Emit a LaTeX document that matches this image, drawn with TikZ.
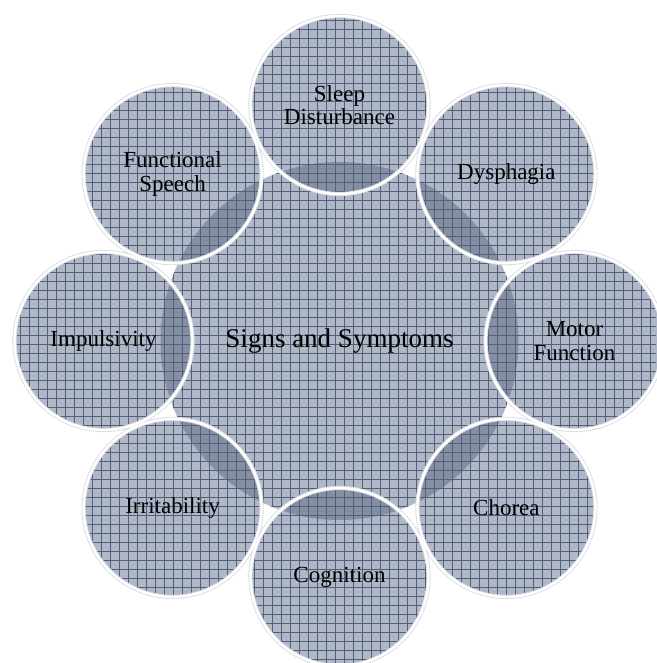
\documentclass[tikz,border=0pt]{standalone}
\usepackage{fontspec}
\setmainfont{Liberation Serif}
\begin{document}
\begin{tikzpicture}[x=1pt,y=-1pt]
\definecolor{basefill}{HTML}{B0B8C7}
\definecolor{gridline}{HTML}{53607A}
\definecolor{overlapfill}{HTML}{858FA3}
\definecolor{rimshade}{HTML}{D9DCE1}
\tikzset{
  outerlabel/.style={align=center, text=black, font=\fontsize{23}{23.5}\selectfont},
  centerlabel/.style={align=center, text=black, font=\fontsize{27}{30}\selectfont},
  rim/.style={draw=white, line width=2.4pt},
  rimhalo/.style={draw=rimshade, line width=4.2pt},
  gridstroke/.style={draw=gridline, line width=0.5pt}
}
\useasboundingbox (0,0) rectangle (656,663);
\def\bigR{179}
\def\smallR{89}
\coordinate (hub) at (339.5,341);
% centres of the eight satellite circles
\coordinate (sleep)  at (339.5,105);
\coordinate (dysph)  at (506.4,174.1);
\coordinate (motor)  at (574.5,341);
\coordinate (chorea) at (506.4,507.9);
\coordinate (cogn)   at (339.5,577);
\coordinate (irrit)  at (172.6,507.9);
\coordinate (impul)  at (103.5,341);
\coordinate (speech) at (172.6,174.1);
\def\satellites{sleep,dysph,motor,chorea,cogn,irrit,impul,speech}
% base fills
\fill[basefill] (hub) circle (\bigR);
\foreach \s in \satellites {\fill[basefill] (\s) circle (\smallR);}
% darker lens where each satellite overlaps the hub
\begin{scope}
  \clip (hub) circle (\bigR);
  \foreach \s in \satellites {\fill[overlapfill] (\s) circle (\smallR);}
\end{scope}
% grid texture
\begin{scope}
  \clip (hub) circle (\bigR) (sleep) circle (\smallR) (dysph) circle (\smallR)
        (motor) circle (\smallR) (chorea) circle (\smallR) (cogn) circle (\smallR)
        (irrit) circle (\smallR) (impul) circle (\smallR) (speech) circle (\smallR);
  \foreach \g in {2,11,...,665} {
    \draw[gridstroke] (\g,0) -- (\g,663);
    \draw[gridstroke] (0,\g) -- (656,\g);
  }
\end{scope}
% white rims of the satellites
\foreach \s in \satellites {\draw[rimhalo] (\s) circle (\smallR);}
\foreach \s in \satellites {\draw[rim] (\s) circle (\smallR);}
% labels
\node[centerlabel] (hubtext) at (hub) {Signs and Symptoms};
\node[outerlabel] (sleeptext)  at (sleep)  {Sleep\\Disturbance};
\node[outerlabel] (dysphtext)  at (dysph)  {Dysphagia};
\node[outerlabel] (motortext)  at (motor)  {Motor\\Function};
\node[outerlabel] (choreatext) at (chorea) {Chorea};
\node[outerlabel] (cogntext)   at (cogn)   {Cognition};
\node[outerlabel] (irrittext)  at (irrit)  {Irritability};
\node[outerlabel] (impultext)  at (impul)  {Impulsivity};
\node[outerlabel] (speechtext) at (speech) {Functional\\Speech};
\end{tikzpicture}
\end{document}
